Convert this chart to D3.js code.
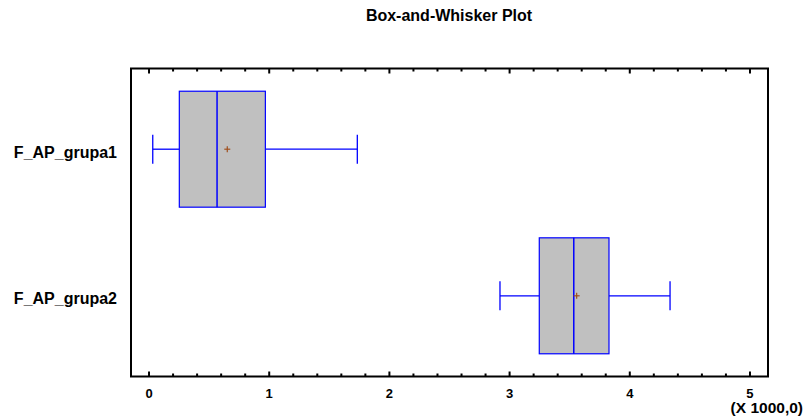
<!DOCTYPE html>
<html><head><meta charset="utf-8">
<script src="https://cdn.jsdelivr.net/npm/d3@7/dist/d3.min.js"></script>
<style>body{margin:0;background:#fff}svg{display:block}text{font-family:"Liberation Sans",Arial,sans-serif;font-weight:bold}</style>
</head><body>
<script>
const categories = ["F_AP_grupa1", "F_AP_grupa2"];
const mins    = [31, 2920];
const q1s     = [252, 3247];
const medians = [566, 3534];
const q3s     = [968, 3827];
const maxs    = [1733, 4335];
const means   = [651, 3558];
const tickValues = [0, 1000, 2000, 3000, 4000, 5000];
const tickLabels = ["0", "1", "2", "3", "4", "5"];
const minorTicks = d3.range(0, 5001, 200);

const W = 806, H = 417;
const L = 131, R = 768, T = 68.5, B = 376.5;
const svg = d3.select("body").append("svg").attr("width", W).attr("height", H);

const x = d3.scaleLinear().domain([-150, 5150]).range([L, R]);
const y = d3.scaleBand().domain(categories).range([T, B]).paddingInner(0.209).paddingOuter(0.155);

const data = categories.map((c, i) => ({c, min: mins[i], q1: q1s[i], med: medians[i], q3: q3s[i], max: maxs[i], mean: means[i]}));

// title
svg.append("text").attr("x", 449).attr("y", 21).attr("text-anchor", "middle")
  .attr("font-size", 16).text("Box-and-Whisker Plot");

// ticks on bottom and top (inward)
const g = svg.append("g");
minorTicks.forEach(v => {
  const major = v % 1000 === 0;
  const len = major ? 5 : 3;
  g.append("line").attr("x1", x(v)).attr("x2", x(v)).attr("y1", B).attr("y2", B - len)
    .attr("stroke", "#000").attr("stroke-width", 2);
  g.append("line").attr("x1", x(v)).attr("x2", x(v)).attr("y1", T).attr("y2", T + len)
    .attr("stroke", "#000").attr("stroke-width", 2);
});
tickValues.forEach((v, i) => {
  svg.append("text").attr("x", x(v)).attr("y", 398).attr("text-anchor", "middle")
    .attr("font-size", 13).text(tickLabels[i]);
});
svg.append("text").attr("x", 803).attr("y", 413).attr("text-anchor", "end")
  .attr("font-size", 15.5).text("(X 1000,0)");

// frame
svg.append("rect").attr("x", L).attr("y", T).attr("width", R - L).attr("height", B - T)
  .attr("fill", "none").attr("stroke", "#000").attr("stroke-width", 2);

// category labels
categories.forEach(c => {
  svg.append("text").attr("x", 117).attr("y", y(c) + y.bandwidth() / 2 + 8.5)
    .attr("text-anchor", "end").attr("font-size", 16).text(c);
});

const blue = "#0000ff";
const bw = y.bandwidth();
const cap = 29;
data.forEach(d => {
  const cy = y(d.c) + bw / 2;
  const gg = svg.append("g");
  gg.append("line").attr("x1", x(d.min)).attr("x2", x(d.q1)).attr("y1", cy).attr("y2", cy).attr("stroke", blue).attr("stroke-width", 1.3);
  gg.append("line").attr("x1", x(d.q3)).attr("x2", x(d.max)).attr("y1", cy).attr("y2", cy).attr("stroke", blue).attr("stroke-width", 1.3);
  gg.append("line").attr("x1", x(d.min)).attr("x2", x(d.min)).attr("y1", cy - cap / 2).attr("y2", cy + cap / 2).attr("stroke", blue).attr("stroke-width", 1.3);
  gg.append("line").attr("x1", x(d.max)).attr("x2", x(d.max)).attr("y1", cy - cap / 2).attr("y2", cy + cap / 2).attr("stroke", blue).attr("stroke-width", 1.3);
  gg.append("rect").attr("x", x(d.q1)).attr("y", y(d.c)).attr("width", x(d.q3) - x(d.q1)).attr("height", bw)
    .attr("fill", "#c0c0c0").attr("stroke", blue).attr("stroke-width", 1.2);
  gg.append("line").attr("x1", x(d.med)).attr("x2", x(d.med)).attr("y1", y(d.c)).attr("y2", y(d.c) + bw).attr("stroke", blue).attr("stroke-width", 1.5);
  const mx = x(d.mean);
  gg.append("line").attr("x1", mx - 3).attr("x2", mx + 3).attr("y1", cy).attr("y2", cy).attr("stroke", "#a0501e").attr("stroke-width", 1.2);
  gg.append("line").attr("x1", mx).attr("x2", mx).attr("y1", cy - 3).attr("y2", cy + 3).attr("stroke", "#a0501e").attr("stroke-width", 1.2);
});
</script>
</body></html>
